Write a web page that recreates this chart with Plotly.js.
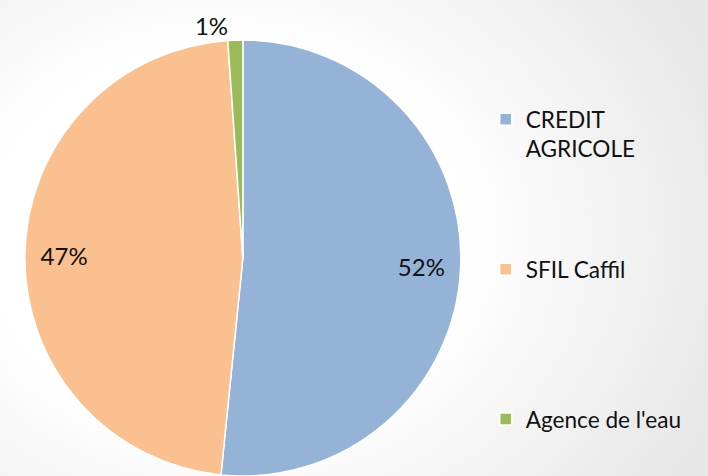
<!DOCTYPE html>
<html>
<head>
<meta charset="utf-8">
<script src="https://cdn.plot.ly/plotly-3.0.1.min.js"></script>
<style>
html,body{margin:0;padding:0;}
body{width:708px;height:476px;overflow:hidden;
background:radial-gradient(ellipse 75% 90% at 32% 50%, #ffffff 0%, #ffffff 45%, #e7e7e7 100%);}
#chart{width:708px;height:476px;}
</style>
</head>
<body>
<div id="chart"></div>
<script>
// Data
var categories = ["CREDIT AGRICOLE", "SFIL Caffil", "Agence de l'eau"];
var legendLabels = ["CREDIT<br>AGRICOLE", "SFIL Caffil", "Agence de l'eau"];
var values = [51.6, 47.3, 1.1];
var colors = ["#95B3D7", "#FAC090", "#9BBB59"];
var textPositions = ["inside", "inside", "outside"];

var FONT = "Lato, 'Open Sans', sans-serif";
var pieDomain = {x: [0.035, 0.651], y: [0.0, 0.916]};

// pad legend labels to equal line counts for spacing
var LINES = 5;
var padded = legendLabels.map(function(l, i){
  if (i === legendLabels.length - 1) return l;
  var n = l.split("<br>").length;
  var s = l;
  for (var k = n; k < LINES; k++) s += "<br> ";
  return s;
});

// main pie: slices + legend
var pie = {
  type: "pie",
  labels: padded,
  values: values,
  customdata: categories,
  sort: false,
  direction: "clockwise",
  rotation: 0,
  marker: {colors: colors, line: {color: "#ffffff", width: 1.5}},
  textinfo: "none",
  hovertemplate: "%{customdata}: %{percent}<extra></extra>",
  domain: pieDomain
};

// transparent ring carrying the percentage labels near the rim
var labelRing = {
  type: "pie",
  labels: categories,
  values: values,
  sort: false,
  direction: "clockwise",
  rotation: 0,
  hole: 0.64,
  showlegend: false,
  marker: {colors: ["rgba(0,0,0,0)", "rgba(0,0,0,0)", "rgba(0,0,0,0)"], line: {width: 0}},
  texttemplate: "%{percent:.0%}",
  textposition: textPositions,
  insidetextorientation: "horizontal",
  textfont: {family: FONT, size: 24, color: "#111111"},
  outsidetextfont: {family: FONT, size: 24, color: "#111111"},
  hoverinfo: "skip",
  domain: pieDomain
};

var layout = {
  width: 708, height: 476,
  margin: {l: 0, r: 0, t: 0, b: 0},
  paper_bgcolor: "rgba(0,0,0,0)",
  plot_bgcolor: "rgba(0,0,0,0)",
  showlegend: true,
  legend: {
    x: 0.686, xanchor: "left",
    y: 0.794, yanchor: "top",
    valign: "top",
    bgcolor: "rgba(0,0,0,0)",
    font: {family: FONT, size: 22.6, color: "#111111"},
    itemclick: false, itemdoubleclick: false
  }
};

Plotly.newPlot("chart", [pie, labelRing], layout, {displayModeBar: false, staticPlot: true});
</script>
</body>
</html>
